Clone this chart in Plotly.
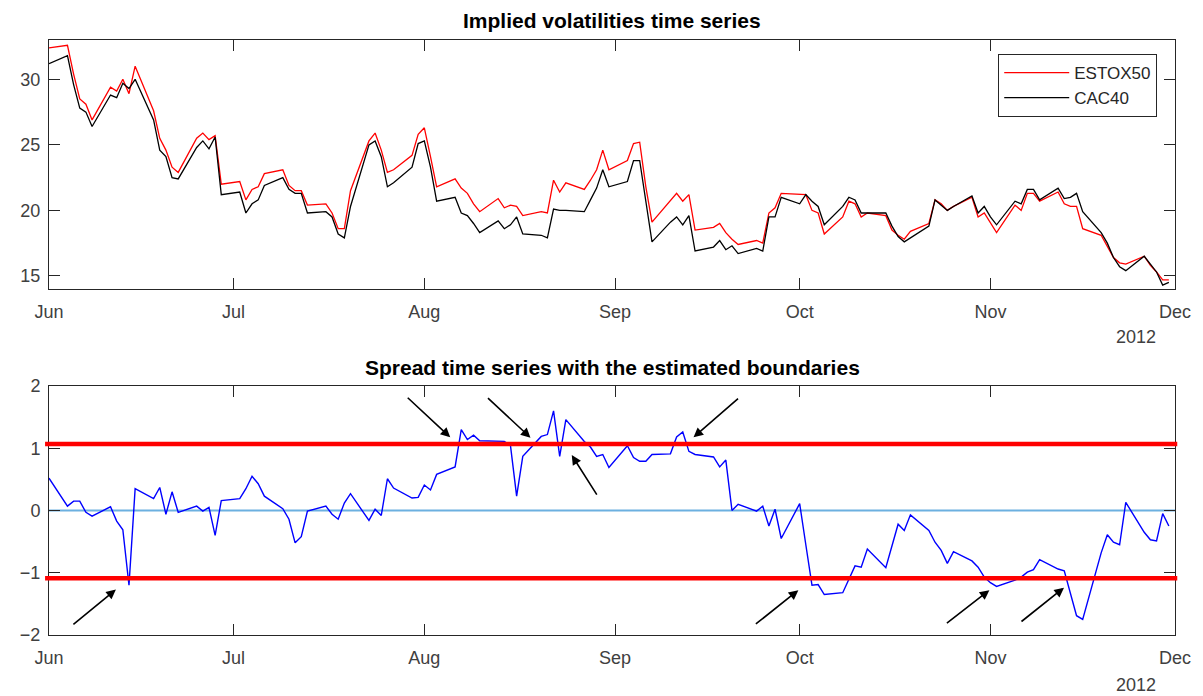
import pandas as pd
import plotly.graph_objects as go

# ---------------- data ----------------
dates = pd.bdate_range("2012-06-01", "2012-11-30")

estox50 = [
    32.4, 32.6, 30.4, 28.5, 28.1, 26.9, 29.4, 29.1, 30.0, 28.9, 31.0, 27.6, 25.5, 24.6, 23.3, 22.9, 25.5, 25.9, 25.4, 25.7, 22.0,
    22.2, 20.8, 21.6, 21.8, 22.8, 23.1, 21.9, 21.5, 21.5, 20.4, 20.5, 19.8, 18.6, 18.6, 21.5, 25.3, 25.9, 24.6, 22.9, 23.1, 24.2, 25.8,
    26.3, 24.1, 21.8, 22.4, 21.7, 21.3, 20.5, 19.9, 20.9, 20.2, 20.4, 20.3, 19.6, 19.9, 19.8, 22.3, 21.4, 22.1, 21.6, 22.3, 23.1, 24.6, 23.1,
    23.8, 25.1, 25.2, 21.8, 19.1, 20.7, 21.3, 20.7, 21.2, 18.5, 18.7, 19.0, 18.3, 17.8, 17.4, 17.7, 17.5, 19.8, 20.2, 21.3,
    21.2, 21.2, 20.0, 19.8, 18.2, 19.5, 20.7, 20.5, 19.5, 19.8, 19.6, 18.5, 18.1, 17.8, 18.4, 19.0, 20.8, 20.5, 20.0, 20.3, 21.0, 19.5, 19.8,
    19.0, 18.3, 20.4, 20.0, 21.3, 21.3, 20.7, 21.4, 20.5, 20.3, 20.3, 18.6, 18.1, 17.2, 16.4, 16.0, 15.9, 16.5, 15.8, 15.3, 14.7, 14.7,
]

cac40 = [
    31.2, 31.8, 29.6, 27.8, 27.5, 26.4, 28.8, 28.6, 29.7, 29.3, 30.0, 26.9, 24.6, 24.1, 22.5, 22.4, 24.8, 25.3, 24.7, 25.6, 21.2,
    21.4, 19.8, 20.5, 20.8, 21.9, 22.5, 21.6, 21.3, 21.3, 19.8, 19.9, 19.5, 18.2, 17.9, 20.3, 25.0, 25.3, 24.1, 21.8, 22.1, 23.3, 25.1,
    25.3, 23.3, 20.7, 21.0, 19.8, 19.6, 19.0, 18.3, 19.2, 18.6, 18.9, 19.5, 18.2, 18.1, 17.9, 20.1, 20.0, 20.0, 19.9, 20.8, 21.7, 23.1, 21.8,
    22.2, 23.8, 23.8, 20.6, 17.6, 19.1, 19.5, 18.9, 19.6, 16.9, 17.2, 17.7, 17.0, 17.3, 16.7, 17.1, 16.9, 19.5, 19.5, 21.0,
    20.5, 21.2, 20.7, 20.3, 18.9, 20.3, 21.0, 20.8, 19.8, 19.8, 19.8, 18.8, 18.0, 17.6, 17.9, 18.8, 20.8, 20.4, 20.0, 20.3, 21.1, 19.8, 20.3,
    19.5, 18.9, 20.7, 20.5, 21.6, 21.6, 20.8, 21.7, 20.9, 21.0, 21.3, 19.9, 18.3, 17.5, 16.4, 15.7, 15.4, 16.5, 15.9, 15.3, 14.3, 14.5,
]

spread = [
    0.52, 0.07, 0.15, 0.15, -0.03, -0.09, 0.06, -0.17, -0.31, -1.20, 0.35, 0.19, 0.37, -0.06, 0.30, -0.03, 0.07, -0.01, 0.05, -0.40, 0.16,
    0.19, 0.35, 0.55, 0.43, 0.23, 0.03, -0.14, -0.52, -0.42, -0.01, 0.07, -0.06, -0.14, 0.12, 0.27, -0.16, 0.02, -0.08, 0.51, 0.36, 0.20, 0.21,
    0.41, 0.33, 0.58, 0.70, 1.30, 1.14, 1.21, 1.12, 1.11, 1.11, 1.04, 0.23, 0.87, 1.19, 1.22, 1.60, 0.87, 1.46, 1.11, 1.02, 0.87, 0.90, 0.69,
    1.04, 0.85, 0.79, 0.79, 0.90, 0.91, 1.18, 1.26, 0.95, 0.90, 0.86, 0.70, 0.81, 0.00, 0.10, -0.01, 0.07, -0.25, 0.02, -0.45,
    0.11, -0.55, -1.20, -1.19, -1.35, -1.32, -1.11, -0.89, -0.91, -0.62, -0.92, -0.56, -0.22, -0.32, -0.07, -0.32, -0.51, -0.64, -0.85, -0.66, -0.81, -0.91, -1.07,
    -1.16, -1.22, -1.12, -1.07, -0.99, -0.95, -0.79, -0.94, -0.97, -1.32, -1.69, -1.75, -0.68, -0.39, -0.51, -0.55, 0.13, -0.35, -0.47, -0.49, -0.05, -0.25,
]

upper_bound = 1.07
lower_bound = -1.09
mean_level = 0.0

month_ticks = ["2012-06-01", "2012-07-01", "2012-08-01", "2012-09-01", "2012-10-01", "2012-11-01", "2012-12-01"]
month_labels = ["Jun", "Jul", "Aug", "Sep", "Oct", "Nov", "Dec"]
top_yticks = [15, 20, 25, 30]
bottom_yticks = [-2, -1, 0, 1, 2]

# arrows: head (date, value) and tail offset in pixels
arrow_heads = [
    ("2012-06-11 21:00", -1.27, -44, 36),
    ("2012-08-05 05:00", 1.175, -44, -41),
    ("2012-08-18 06:00", 1.17, -44, -41),
    ("2012-08-24 23:00", 0.89, 26, 41),
    ("2012-09-13 18:00", 1.175, 46, -40),
    ("2012-09-30 19:00", -1.28, -44, 35),
    ("2012-10-31 20:00", -1.28, -44, 34),
    ("2012-11-12 23:00", -1.24, -44, 35),
]

# ---------------- figure ----------------
FONT = "Liberation Sans, Arial, sans-serif"
AX = "#262626"
TXT = "#404040"

fig = go.Figure()
fig.add_trace(go.Scatter(x=dates, y=estox50, mode="lines", name="ESTOX50",
                         line=dict(color="#ff0000", width=1.3), xaxis="x", yaxis="y"))
fig.add_trace(go.Scatter(x=dates, y=cac40, mode="lines", name="CAC40",
                         line=dict(color="#000000", width=1.3), xaxis="x", yaxis="y"))
fig.add_trace(go.Scatter(x=dates, y=spread, mode="lines", name="Spread", showlegend=False,
                         line=dict(color="#0000ff", width=1.4), xaxis="x2", yaxis="y2"))

xcommon = dict(type="date", range=["2012-06-01", "2012-12-01"], tickvals=month_ticks, ticktext=month_labels,
               ticks="inside", ticklen=11, tickcolor=AX, showline=True, linecolor=AX, linewidth=1,
               mirror="ticks", showgrid=False, zeroline=False,
               tickfont=dict(family=FONT, size=18, color=TXT), ticklabelstandoff=6)
ycommon = dict(ticks="inside", ticklen=11, tickcolor=AX, showline=True, linecolor=AX, linewidth=1,
               mirror="ticks", showgrid=False, zeroline=False,
               tickfont=dict(family=FONT, size=18, color=TXT), ticklabelstandoff=4)

# page body has an 8px margin, so the figure is 8px smaller and margins shifted
fig.update_layout(
    width=1195, height=688,
    margin=dict(l=34, r=27, t=32, b=61),
    paper_bgcolor="white", plot_bgcolor="white",
    xaxis=dict(xcommon, anchor="y", domain=[0, 1]),
    yaxis=dict(ycommon, anchor="x", domain=[0.5815, 1], range=[14, 33], tickvals=top_yticks),
    xaxis2=dict(xcommon, anchor="y2", domain=[0, 1]),
    yaxis2=dict(ycommon, anchor="x2", domain=[0, 0.4185], range=[-2, 2], tickvals=bottom_yticks),
    showlegend=True,
    legend=dict(x=0.843, y=0.9765, xanchor="left", yanchor="top", bgcolor="white",
                bordercolor=AX, borderwidth=1, font=dict(family=FONT, size=17, color=AX),
                tracegroupgap=0, itemwidth=65),
)

# boundaries and mean line
fig.add_shape(type="line", xref="paper", yref="y2", x0=0, x1=1, y0=mean_level, y1=mean_level,
              line=dict(color="#6cb0e0", width=2), layer="below")
for b in (upper_bound, lower_bound):
    fig.add_shape(type="line", xref="paper", yref="y2", x0=-0.0035, x1=1.002, y0=b, y1=b,
                  line=dict(color="#ff0000", width=4.5), layer="above")

# titles
fig.add_annotation(text="<b>Implied volatilities time series</b>", xref="paper", yref="paper",
                   x=0.5, y=1.032, xanchor="center", yanchor="middle", showarrow=False,
                   font=dict(family=FONT, size=21, color="#000000"))
fig.add_annotation(text="<b>Spread time series with the estimated boundaries</b>", xref="paper", yref="paper",
                   x=0.5, y=0.4504, xanchor="center", yanchor="middle", showarrow=False,
                   font=dict(family=FONT, size=21, color="#000000"))
# year labels
fig.add_annotation(text="2012", xref="paper", yref="paper", x=0.9656, y=0.5008,
                   xanchor="center", yanchor="middle", showarrow=False,
                   font=dict(family=FONT, size=18, color=TXT))
fig.add_annotation(text="2012", xref="paper", yref="paper", x=0.9656, y=-0.084,
                   xanchor="center", yanchor="middle", showarrow=False,
                   font=dict(family=FONT, size=18, color=TXT))

# arrows
for (hx, hy, ax, ay) in arrow_heads:
    fig.add_annotation(x=hx, y=hy, xref="x2", yref="y2", ax=ax, ay=ay, axref="pixel", ayref="pixel",
                       text="", showarrow=True, arrowhead=2, arrowsize=1.2, arrowwidth=1.6,
                       arrowcolor="#000000", standoff=0)

fig.write_html("out.html")
